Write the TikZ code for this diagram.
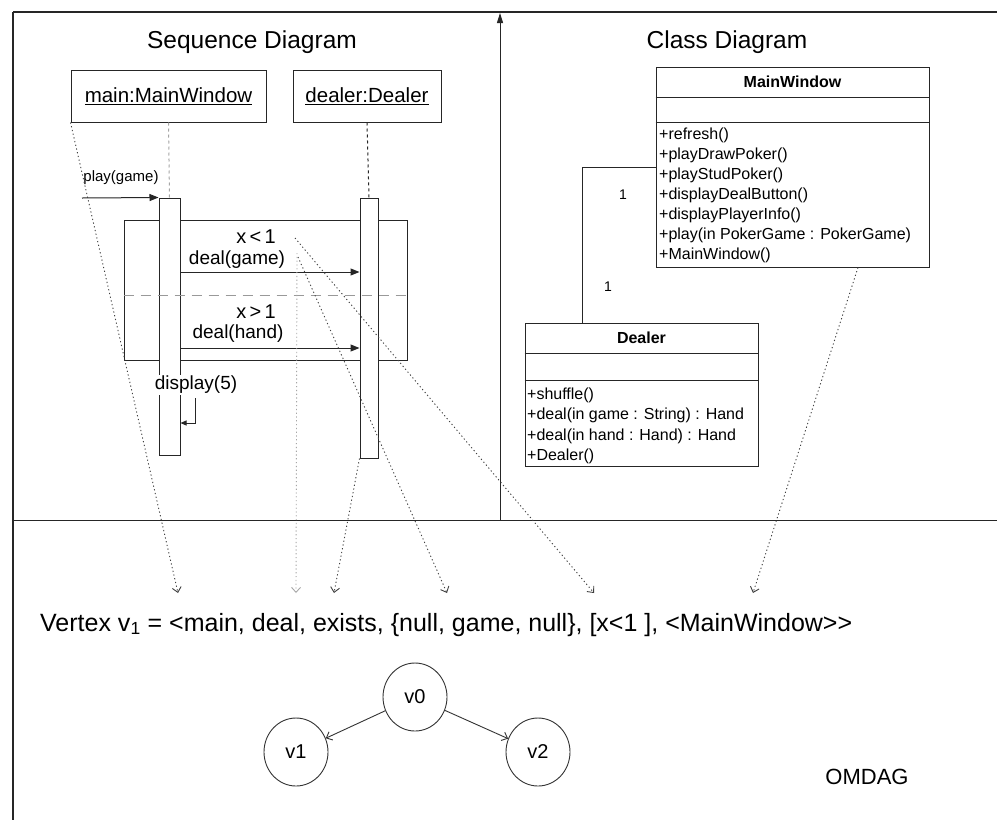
\documentclass[tikz,border=0pt]{standalone}
\usepackage{fontspec}
\setmainfont{Liberation Sans}
\usetikzlibrary{arrows.meta,shapes.geometric}
\begin{document}
\begin{tikzpicture}[x=1pt,y=-1pt,
  line/.style={draw=black!85,line width=1pt},
  ttl/.style={font=\fontsize{24.5}{28}\selectfont,inner sep=0pt},
  objbox/.style={draw=black!85,line width=1pt,inner sep=0pt,font=\fontsize{20.5}{24}\selectfont},
  actbar/.style={draw=black!85,line width=1pt,fill=white,inner sep=0pt},
  msgtxt/.style={font=\fontsize{19}{22}\selectfont,inner sep=0pt},
  msgarrow/.style={draw=black!85,line width=1pt,-{Triangle[length=9pt,width=7pt]}},
  maparrow/.style={draw=black!75,line width=0.9pt,dash pattern=on 1.2pt off 2.6pt,-{Straight Barb[length=5pt,width=9pt,line width=0.9pt]}},
  clsbox/.style={draw=black!85,line width=1pt,inner sep=0pt},
  clstitle/.style={font=\bfseries\fontsize{16}{19}\selectfont,inner sep=0pt},
  method/.style={anchor=base west,inner sep=0pt,font=\fontsize{16}{19}\selectfont},
  mult/.style={font=\fontsize{14}{16}\selectfont,inner sep=0pt},
  gnode/.style={draw=black!80,line width=0.9pt,ellipse,minimum width=64pt,minimum height=68pt,inner sep=0pt,font=\fontsize{20}{24}\selectfont},
  gedge/.style={draw=black!80,line width=0.9pt,-{Straight Barb[length=5pt,width=9pt,line width=0.9pt]}}
]
\fill[white] (0,0) rectangle (997,820);
\useasboundingbox (0,0) rectangle (997,820);

% frame
\coordinate (TL) at (13,12);
\coordinate (TR) at (997,12);
\coordinate (BL) at (13,820);
\coordinate (ML) at (13,520);
\coordinate (MR) at (997,520);
\coordinate (DT) at (500,13);
\coordinate (DB) at (500,520);
\draw[line,line width=1.2pt] (TR) -- (TL);
\draw[line,line width=2pt] (TL) -- (BL);
\draw[line] (ML) -- (MR);
\draw[line,-{Triangle[length=10pt,width=6pt]}] (DB) -- (DT);

% titles
\node[ttl] (seqt) at (252,42) {Sequence Diagram};
\node[ttl] (clst) at (727,42) {Class Diagram};

% sequence diagram
\node[objbox,minimum width=195pt,minimum height=52pt] (mainobj) at (168.5,96) {\underline{main:MainWindow}};
\node[objbox,minimum width=148pt,minimum height=52pt] (dealobj) at (367,96) {\underline{dealer:Dealer}};

\node[draw=black!85,line width=1pt,minimum width=283pt,minimum height=140pt,inner sep=0pt] (frag) at (265.5,290) {};

\node[actbar,minimum width=21pt,minimum height=257pt] (mainbar) at (169.5,326.5) {};
\node[actbar,minimum width=18pt,minimum height=260pt] (dbar) at (369,328) {};

\draw[draw=black!35,dashed,line width=1pt] (mainobj.south) -- (mainbar.north);
\draw[draw=black!85,dashed,line width=1pt] (dealobj.south) -- (dbar.north);

\draw[draw=black!40,line width=1pt,dash pattern=on 10pt off 7pt] (frag.west |- 0,295) -- (frag.east |- 0,295);

\coordinate (pgs) at (82,198);
\draw[msgarrow] (pgs) -- (mainbar.north west);
\node[msgtxt,font=\fontsize{15}{18}\selectfont] (pgl) at (121,178) {play(game)};

\draw[msgarrow] (mainbar.east |- 0,272) -- (dbar.west |- 0,272);
\draw[msgarrow] (mainbar.east |- 0,348) -- (dbar.west |- 0,348);

\node[msgtxt,font=\fontsize{20}{22}\selectfont] (g1) at (256,237) {x\,<\,1};
\node[msgtxt] (dgl) at (237,260) {deal(game)};
\node[msgtxt,font=\fontsize{20}{22}\selectfont] (g2) at (256,312) {x\,>\,1};
\node[msgtxt] (dhl) at (238,334) {deal(hand)};
\node[msgtxt,fill=white,inner sep=1.5pt] (dsl) at (196,385) {display(5)};

\coordinate (sc1) at (195,398);
\coordinate (sc2) at (195,423);
\draw[line,-{Triangle[length=6pt,width=5pt]}] (sc1) -- (sc2) -- (mainbar.east |- sc2);

% class diagram
\node[clsbox,minimum width=273pt,minimum height=200pt] (mwc) at (792.5,167) {};
\draw[line] (mwc.west |- 0,97) -- (mwc.east |- 0,97);
\draw[line] (mwc.west |- 0,122) -- (mwc.east |- 0,122);
\node[clstitle] (mwt) at (792.5,82) {MainWindow};
\foreach \m [count=\i from 0] in {+refresh(),+playDrawPoker(),+playStudPoker(),+displayDealButton(),+displayPlayerInfo(),+play(in PokerGame : PokerGame),+MainWindow()}
  \node[method] (mwm\i) at (659,139+20*\i) {\m};

\node[clsbox,minimum width=233pt,minimum height=143pt] (dc) at (641.5,394.5) {};
\draw[line] (dc.west |- 0,353) -- (dc.east |- 0,353);
\draw[line] (dc.west |- 0,380) -- (dc.east |- 0,380);
\node[clstitle] (dct) at (641.5,338) {Dealer};
\foreach \m [count=\i from 0] in {+shuffle(),+deal(in game : String) : Hand,+deal(in hand : Hand) : Hand,+Dealer()}
  \node[method] (dcm\i) at (527,399+20.5*\i) {\m};

\draw[line] (mwc.west) -| (dc.north -| 582,0);
\node[mult] (m1) at (623,195) {1};
\node[mult] (m2) at (608,287) {1};

% vertex text
\node[anchor=base west,inner sep=0pt,font=\fontsize{25}{30}\selectfont] (vtx) at (40,631)
  {Vertex v\textsubscript{1} = <main, deal, exists, \{null, game, null\}, [x<1 ], <MainWindow>{}>};

% OMDAG
\node[gnode] (v0) at (415,697) {v0};
\node[gnode] (v1) at (296,752) {v1};
\node[gnode] (v2) at (538,752) {v2};
\draw[gedge] (v0) -- (v1);
\draw[gedge] (v0) -- (v2);
\node[font=\fontsize{22}{26}\selectfont,inner sep=0pt] (omdag) at (867,777) {OMDAG};

% mapping arrows
\coordinate (eA) at (178,593);
\coordinate (eB) at (296,593);
\coordinate (eC) at (334,593);
\coordinate (eD) at (447,593);
\coordinate (eE) at (594,593);
\coordinate (eF) at (753,593);
\coordinate (sB) at (297,253);
\coordinate (sD) at (298,257);
\coordinate (sE) at (295,238);
\draw[maparrow] (mainobj.south west) -- (eA);
\draw[maparrow,draw=black!35] (sB) -- (eB);
\draw[maparrow] (dbar.south west) -- (eC);
\draw[maparrow] (sD) -- (eD);
\draw[maparrow] (sE) -- (eE);
\draw[maparrow] (mwc.south -| 858,0) -- (eF);
\end{tikzpicture}
\end{document}
